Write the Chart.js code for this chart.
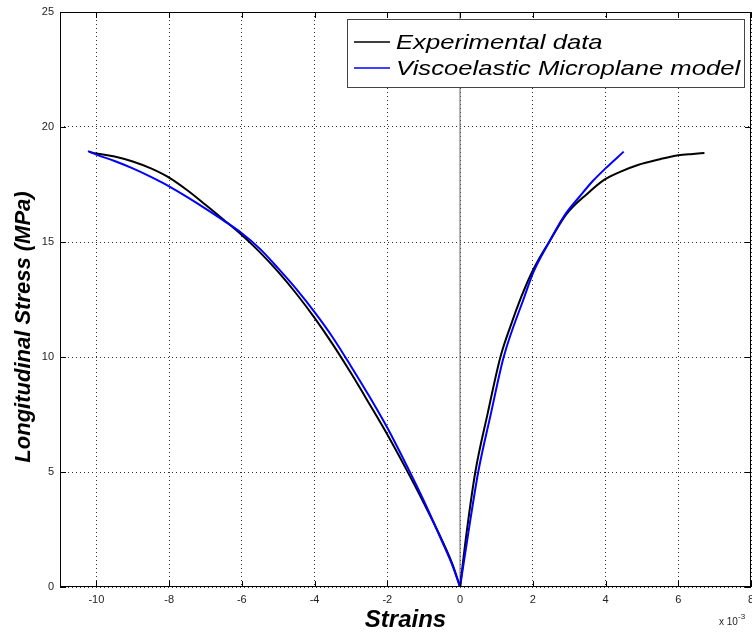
<!DOCTYPE html>
<html lang="en">
<head>
<meta charset="UTF-8">
<title>Longitudinal stress vs strain</title>
<script src="https://cdn.jsdelivr.net/npm/chart.js"></script>
<style>
body { margin: 0; background: #fff; }
#wrap { width: 752px; height: 637px; }
</style>
</head>
<body>
<div id="wrap"><canvas id="stressChart" width="752" height="637"></canvas></div>
<script>
// strains are in units of 1e-3
const xTicks=[-10,-8,-6,-4,-2,0,2,4,6,8];
const yTicks=[0,5,10,15,20,25];
const seriesNames=["Experimental data","Viscoelastic Microplane model"];
const seriesColors=['#000','#0000ff'];
const yTitle="Longitudinal Stress (MPa)";

const expStrain=[-10.2,-10,-9.5,-9,-8.5,-8,-7.5,-7,-6.5,-6,-5.5,-5,-4.5,-4,-3.5,-3,-2.5,-2,-1.5,-1,-0.5,-0.2,0,
    0.19,0.42,0.76,1.11,1.4,1.68,1.95,2.2,2.45,2.92,3.5,3.96,4.4,4.89,5.5,6.0,6.4,6.72];
const expStress=[18.92,18.85,18.72,18.5,18.2,17.8,17.25,16.62,15.97,15.3,14.55,13.7,12.75,11.7,10.55,9.3,7.98,6.63,5.18,3.66,2.05,0.95,0,
    2.48,5.0,7.55,10.0,11.4,12.6,13.6,14.35,15.0,16.2,17.1,17.7,18.05,18.35,18.6,18.77,18.83,18.87];

const modelStrain=[-10.23,-10,-9.5,-9,-8.5,-8,-7.5,-7,-6.5,-6,-5.5,-5,-4.5,-4,-3.5,-3,-2.5,-2,-1.5,-1,-0.5,-0.2,0,
    0.24,0.5,0.85,1.2,1.77,2.02,2.45,2.87,3.3,3.65,4.0,4.5];
const modelStress=[18.95,18.8,18.52,18.2,17.83,17.42,16.95,16.45,15.93,15.38,14.7,13.85,12.95,11.95,10.85,9.6,8.3,6.92,5.38,3.76,2.0,0.9,0,
    2.48,5.0,7.55,10.0,12.62,13.7,15.0,16.15,17.0,17.65,18.2,18.93];

const zeroStrain=[0,0];
const zeroStress=[0,25];

function toPoints(xs,ys){ return xs.map((x,i)=>({x:x,y:ys[i]})); }

// each curve has a sharp corner at the origin, so split it there into two branches
function branches(xs,ys,name,color,order){
    const pts=toPoints(xs,ys);
    const k=xs.indexOf(0);
    return [pts.slice(0,k+1),pts.slice(k)].map(d=>({
        label:name, data:d, showLine:true, borderColor:color, borderWidth:2,
        pointRadius:0, cubicInterpolationMode:'monotone', order:order
    }));
}

const frameAndLegend={
    id:'frameAndLegend',
    afterDraw(chart){
        const ctx=chart.ctx, a=chart.chartArea;
        const sx=chart.scales.x, sy=chart.scales.y;
        ctx.save();
        // axes box
        ctx.strokeStyle='#000';
        ctx.lineWidth=1;
        ctx.strokeRect(a.left+0.5,a.top+0.5,a.right-a.left-1,a.bottom-a.top-1);
        // inward tick marks on all sides
        ctx.beginPath();
        xTicks.forEach(v=>{
            const px=Math.round(sx.getPixelForValue(v))+0.5;
            ctx.moveTo(px,a.bottom); ctx.lineTo(px,a.bottom-6);
            ctx.moveTo(px,a.top); ctx.lineTo(px,a.top+6);
        });
        yTicks.forEach(v=>{
            const py=Math.round(sy.getPixelForValue(v))+0.5;
            ctx.moveTo(a.left,py); ctx.lineTo(a.left+6,py);
            ctx.moveTo(a.right,py); ctx.lineTo(a.right-6,py);
        });
        ctx.stroke();

        // y axis title, sits a bit below the middle like the original
        ctx.save();
        ctx.translate(24,327);
        ctx.rotate(-Math.PI/2);
        ctx.fillStyle='#000';
        ctx.font='italic bold 22px "Liberation Sans", Arial, sans-serif';
        ctx.textAlign='center';
        ctx.textBaseline='middle';
        ctx.fillText(yTitle,0,0);
        ctx.restore();

        // legend
        const bw=397, bh=68;
        const bx=a.right-bw-7, by=a.top+7;
        ctx.fillStyle='#fff';
        ctx.fillRect(bx,by,bw,bh);
        ctx.strokeStyle='#444';
        ctx.strokeRect(bx+0.5,by+0.5,bw,bh);
        seriesNames.forEach((name,i)=>{
            const ly=by+23+i*26;
            ctx.strokeStyle=seriesColors[i];
            ctx.lineWidth=1.5;
            ctx.beginPath(); ctx.moveTo(bx+7,ly); ctx.lineTo(bx+43,ly); ctx.stroke();
            ctx.fillStyle='#000';
            ctx.font='italic 21px "Liberation Sans", Arial, sans-serif';
            ctx.textBaseline='middle';
            ctx.textAlign='left';
            ctx.save();
            ctx.translate(bx+49,ly+1);
            ctx.scale(1.22,1);
            ctx.fillText(name,0,0);
            ctx.restore();
        });

        // exponent label
        ctx.fillStyle='#222';
        ctx.font='10px "Liberation Sans", Arial, sans-serif';
        ctx.textBaseline='alphabetic';
        ctx.textAlign='left';
        ctx.fillText('x 10',719,625);
        ctx.font='8px "Liberation Sans", Arial, sans-serif';
        ctx.fillText('-3',738,619);
        ctx.restore();
    }
};

const ctx=document.getElementById("stressChart").getContext("2d");
new Chart(ctx,{
    type:'scatter',
    data:{
        datasets:[
            ...branches(expStrain,expStress,seriesNames[0],seriesColors[0],1),
            ...branches(modelStrain,modelStress,seriesNames[1],seriesColors[1],0),
            {label:'zero', data:toPoints(zeroStrain,zeroStress), showLine:true,
             borderColor:'#666', borderWidth:1, pointRadius:0, order:2}
        ]
    },
    options:{
        responsive:false,
        animation:false,
        events:[],
        layout:{padding:{top:12,right:1,left:0,bottom:0}},
        plugins:{legend:{display:false}, tooltip:{enabled:false}},
        scales:{
            x:{
                type:'linear', min:-11, max:8,
                afterBuildTicks:s=>{ s.ticks=xTicks.map(v=>({value:v})); },
                afterFit:s=>{ s.height=50; s.paddingLeft=0; s.paddingRight=0; },
                grid:{color:'#333', lineWidth:1, drawTicks:false},
                border:{display:false, dash:[1,3]},
                ticks:{padding:6, color:'#222', font:{size:11, family:'"Liberation Sans", Arial, sans-serif'}, maxRotation:0, autoSkip:false},
                title:{display:true, text:'Strains', color:'#000',
                       font:{size:24, weight:'bold', style:'italic', family:'"Liberation Sans", Arial, sans-serif'},
                       padding:{top:2,bottom:2}}
            },
            y:{
                type:'linear', min:0, max:25,
                afterBuildTicks:s=>{ s.ticks=yTicks.map(v=>({value:v})); },
                afterFit:s=>{ s.width=60; s.paddingTop=0; s.paddingBottom=0; },
                grid:{color:'#333', lineWidth:1, drawTicks:false},
                border:{display:false, dash:[1,3]},
                ticks:{padding:6, color:'#222', font:{size:11, family:'"Liberation Sans", Arial, sans-serif'}}
            }
        }
    },
    plugins:[frameAndLegend]
});
</script>
</body>
</html>
